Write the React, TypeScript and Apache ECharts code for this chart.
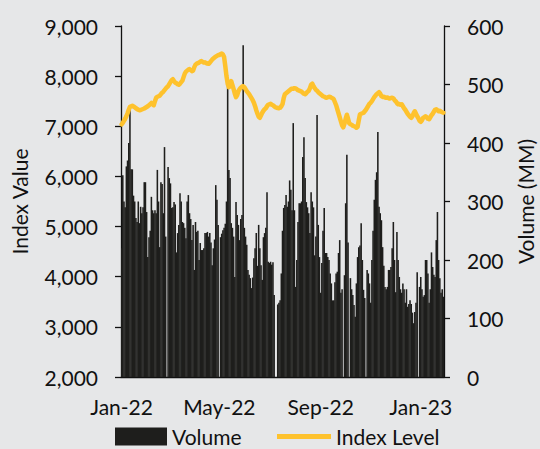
import React, { useEffect, useRef } from "react";
import * as echarts from "echarts";

// Month blocks (trading days)
const monthLabels = ["Jan-22", "Feb-22", "Mar-22", "Apr-22", "May-22", "Jun-22", "Jul-22", "Aug-22", "Sep-22", "Oct-22", "Nov-22", "Dec-22", "Jan-23"];
const shownLabels = ["Jan-22", "May-22", "Sep-22", "Jan-23"];

// Volume (MM)
const volJan22 = [220, 345, 300, 290, 360, 370, 400, 460, 355, 355, 310, 300, 272, 265, 300, 263, 291, 280, 290, 333];
const volFeb22 = [333, 282, 205, 239, 250, 308, 285, 280, 285, 280, 354, 300, 222, 333, 330, 280, 393, 240, 0];
const volMar22 = [359, 340, 331, 289, 290, 299, 295, 213, 246, 260, 314, 300, 265, 263, 255, 237, 300, 311, 280, 270, 234, 260, 183];
const volApr22 = [265, 248, 250, 200, 229, 217, 217, 220, 246, 246, 248, 240, 246, 230, 191, 220, 235, 328, 303, 260];
const volMay22 = [0, 239, 245, 251, 255, 262, 300, 505, 354, 340, 263, 255, 240, 171, 299, 277, 260, 234, 270, 277, 567];
const volJun22 = [255, 240, 226, 183, 175, 169, 152, 170, 203, 220, 246, 190, 260, 220, 191, 166, 239, 246, 255, 316, 197];
const volJul22 = [195, 197, 192, 196, 140, 0, 0, 124, 127, 131, 177, 250, 289, 294, 311, 291, 300, 336, 320, 285];
const volAug22 = [434, 285, 154, 200, 265, 297, 297, 300, 376, 410, 340, 299, 290, 280, 246, 316, 300, 290, 208, 240, 448, 260, 205];
const volSep22 = [144, 195, 250, 289, 212, 212, 205, 200, 177, 160, 131, 131, 162, 177, 180, 212, 234, 144, 150, 0, 174];
const volOct22 = [297, 380, 230, 0, 169, 150, 140, 123, 103, 160, 205, 222, 225, 263, 200, 149, 135, 0, 183, 177, 160];
const volNov22 = [127, 200, 250, 303, 337, 350, 419, 291, 280, 268, 222, 190, 154, 150, 154, 183, 183, 188, 220, 265, 200];
const volDec22 = [145, 248, 200, 171, 150, 144, 160, 150, 127, 150, 120, 125, 131, 125, 110, 92, 111, 127, 179, 0, 154];
const volJan23 = [171, 150, 137, 140, 200, 200, 177, 127, 150, 213, 188, 175, 171, 234, 282, 200, 169, 144, 150, 137];

// Index level
const idxJan22 = [7040, 7070, 7110, 7150, 7200, 7260, 7330, 7390, 7400, 7410, 7395, 7380, 7360, 7345, 7330, 7320, 7325, 7335, 7345, 7355];
const idxFeb22 = [7370, 7385, 7400, 7420, 7440, 7465, 7440, 7420, 7500, 7570, 7590, 7600, 7610, 7640, 7670, 7690, 7720, 7750, 7780];
const idxMar22 = [7800, 7840, 7880, 7920, 7940, 7900, 7870, 7860, 7840, 7830, 7850, 7880, 7910, 7980, 8050, 8090, 8110, 8130, 8140, 8120, 8100, 8110, 8180];
const idxApr22 = [8230, 8250, 8260, 8270, 8290, 8300, 8285, 8270, 8275, 8260, 8250, 8245, 8270, 8300, 8330, 8350, 8370, 8390, 8405, 8420];
const idxMay22 = [8420, 8440, 8450, 8430, 8380, 8200, 8000, 7850, 7780, 7850, 7900, 7820, 7740, 7650, 7580, 7620, 7700, 7740, 7770, 7790, 7800];
const idxJun22 = [7780, 7740, 7700, 7670, 7640, 7600, 7560, 7520, 7470, 7400, 7320, 7250, 7190, 7170, 7220, 7270, 7310, 7340, 7360, 7400, 7430];
const idxJul22 = [7440, 7450, 7430, 7420, 7400, 7380, 7370, 7365, 7360, 7370, 7400, 7440, 7560, 7640, 7660, 7680, 7700, 7720, 7740, 7750];
const idxAug22 = [7750, 7760, 7755, 7740, 7720, 7710, 7700, 7690, 7670, 7650, 7640, 7660, 7690, 7710, 7760, 7830, 7850, 7800, 7760, 7730, 7710, 7680, 7660];
const idxSep22 = [7640, 7620, 7600, 7590, 7575, 7570, 7580, 7590, 7585, 7570, 7560, 7540, 7480, 7420, 7340, 7260, 7180, 7100, 7020, 6980, 7050];
const idxOct22 = [7150, 7230, 7150, 7060, 7040, 7030, 7010, 7000, 6990, 6970, 6990, 7120, 7240, 7250, 7260, 7270, 7300, 7330, 7370, 7410, 7450];
const idxNov22 = [7470, 7500, 7540, 7580, 7610, 7640, 7660, 7680, 7650, 7600, 7585, 7590, 7575, 7570, 7575, 7560, 7555, 7565, 7570, 7560, 7520];
const idxDec22 = [7500, 7460, 7440, 7445, 7430, 7440, 7400, 7360, 7330, 7290, 7250, 7220, 7190, 7170, 7200, 7260, 7300, 7250, 7200, 7160, 7110];
const idxJan23 = [7090, 7120, 7170, 7180, 7200, 7180, 7150, 7140, 7180, 7220, 7250, 7290, 7330, 7340, 7320, 7300, 7310, 7290, 7280, 7270];

const volBlocks = [volJan22, volFeb22, volMar22, volApr22, volMay22, volJun22, volJul22, volAug22, volSep22, volOct22, volNov22, volDec22, volJan23];
const idxBlocks = [idxJan22, idxFeb22, idxMar22, idxApr22, idxMay22, idxJun22, idxJul22, idxAug22, idxSep22, idxOct22, idxNov22, idxDec22, idxJan23];

const FONT = "Lato";
const TXT = "#111111";
const BAR = "#1e1e1c";
const LINE = "#fec22d";

export default function App() {
  const ref = useRef<HTMLDivElement>(null);
  useEffect(() => {
    if (!ref.current) return;
    const chart = echarts.init(ref.current, undefined, { renderer: "svg" });
    const cats: string[] = [];
    const vol: number[] = [];
    const idx: number[] = [];
    volBlocks.forEach((blk, m) => {
      blk.forEach((v, i) => {
        cats.push(monthLabels[m] + "|" + i);
        vol.push(v);
        idx.push(idxBlocks[m][i]);
      });
    });
    const showFn = (_i: number, value: string) => {
      const [lab, d] = String(value).split("|");
      return d === "0" && shownLabels.indexOf(lab) >= 0;
    };
    const fmt = (v: number) => v.toLocaleString("en-US");
    const axisLineStyle = { color: TXT, width: 1.3 };
    const legendText = { fontSize: 21, color: TXT, fontFamily: FONT, lineHeight: 21 };
    chart.setOption({
      animation: false,
      backgroundColor: "#e6e7e8",
      textStyle: { fontFamily: FONT },
      grid: { left: 121, right: 96, top: 26, bottom: 72, containLabel: false, outerBoundsMode: "none" },
      legend: [
        {
          left: 115,
          top: 426,
          padding: 0,
          itemWidth: 52,
          itemHeight: 18,
          textStyle: legendText,
          data: [{ name: "Volume", icon: "rect" }],
        },
        {
          left: 277,
          top: 426,
          padding: 0,
          itemWidth: 54,
          itemHeight: 5,
          textStyle: legendText,
          data: [{ name: "Index Level", icon: "rect" }],
        },
      ],
      xAxis: {
        type: "category",
        data: cats,
        boundaryGap: true,
        axisLine: { lineStyle: axisLineStyle },
        axisTick: { interval: showFn, length: 6, lineStyle: axisLineStyle },
        axisLabel: {
          interval: showFn,
          formatter: (v: string) => v.split("|")[0],
          fontSize: 21,
          color: TXT,
          fontFamily: FONT,
          margin: 19,
        },
        splitLine: { show: false },
      },
      yAxis: [
        {
          type: "value",
          min: 2000,
          max: 9000,
          interval: 1000,
          name: "Index Value",
          nameLocation: "middle",
          nameGap: 91,
          nameRotate: 90,
          nameTextStyle: { fontSize: 21, color: TXT, fontFamily: FONT },
          axisLine: { show: true, lineStyle: axisLineStyle },
          axisTick: { show: true, length: 6, lineStyle: axisLineStyle },
          splitLine: { show: false },
          axisLabel: { fontSize: 21, color: TXT, fontFamily: FONT, margin: 23, formatter: fmt },
        },
        {
          type: "value",
          position: "right",
          min: 0,
          max: 600,
          interval: 100,
          name: "Volume (MM)",
          nameLocation: "middle",
          nameGap: 71,
          nameRotate: 90,
          nameTextStyle: { fontSize: 21, color: TXT, fontFamily: FONT },
          axisLine: { show: true, lineStyle: axisLineStyle },
          axisTick: { show: true, length: 6, lineStyle: axisLineStyle },
          splitLine: { show: false },
          axisLabel: { fontSize: 21, color: TXT, fontFamily: FONT, margin: 23 },
        },
      ],
      series: [
        {
          name: "Volume",
          type: "bar",
          yAxisIndex: 1,
          data: vol,
          barWidth: 1.55,
          itemStyle: { color: BAR },
        },
        {
          name: "Index Level",
          type: "line",
          yAxisIndex: 0,
          data: idx,
          symbol: "none",
          lineStyle: { color: LINE, width: 4.5, join: "round", cap: "round" },
          itemStyle: { color: LINE },
        },
      ],
    });
    return () => chart.dispose();
  }, []);
  return (
    <div
      ref={ref}
      style={{ position: "fixed", left: 0, top: 0, width: 540, height: 449, background: "#e6e7e8" }}
    />
  );
}
